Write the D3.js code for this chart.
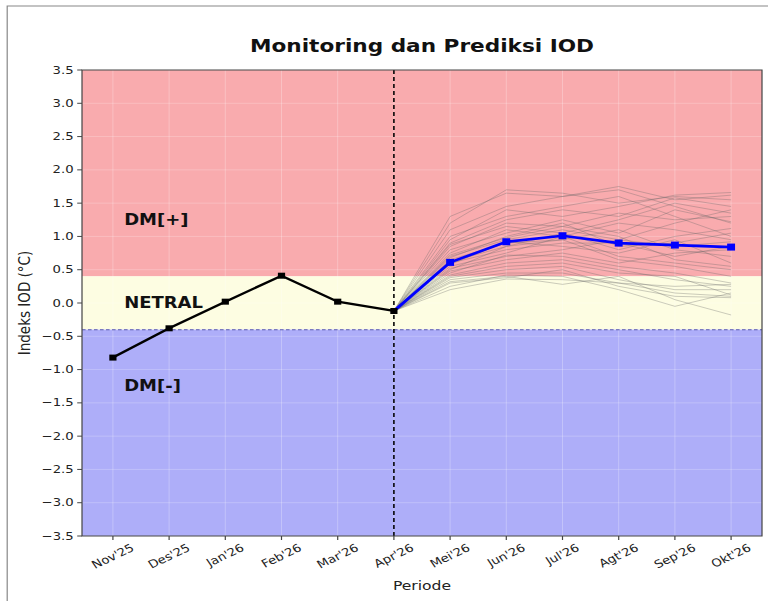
<!DOCTYPE html>
<html>
<head>
<meta charset="utf-8">
<script src="https://cdn.jsdelivr.net/npm/d3@7"></script>
<style>
  body { margin: 0; background: #fff; }
  text { font-family: "DejaVu Sans", sans-serif; }
</style>
</head>
<body>
<div id="chart"></div>
<script>
// periods and tick labels
var periods = ["Nov'25", "Des'25", "Jan'26", "Feb'26", "Mar'26", "Apr'26",
               "Mei'26", "Jun'26", "Jul'26", "Agt'26", "Sep'26", "Okt'26"];
var yTicks = [3.5, 3.0, 2.5, 2.0, 1.5, 1.0, 0.5, 0.0, -0.5, -1.0, -1.5, -2.0, -2.5, -3.0, -3.5];

// observed IOD index (Nov'25 .. Apr'26)
var observed = [-0.82, -0.38, 0.02, 0.41, 0.02, -0.12];

// forecast mean (Mei'26 .. Okt'26), starts from last observed
var forecast = [0.61, 0.92, 1.01, 0.90, 0.87, 0.84];

// ensemble members (Mei'26 .. Okt'26)
var members = [
  [1.30, 1.65, 1.60, 1.75, 1.55, 1.62],
  [1.20, 1.70, 1.65, 1.50, 1.60, 1.55],
  [1.10, 1.45, 1.60, 1.70, 1.45, 1.20],
  [0.95, 1.40, 1.30, 1.45, 1.62, 1.66],
  [0.90, 1.25, 1.40, 1.30, 1.58, 1.45],
  [0.85, 1.20, 1.15, 1.35, 1.25, 1.30],
  [0.80, 1.05, 1.25, 1.05, 1.40, 1.22],
  [0.75, 1.10, 1.00, 1.20, 1.10, 0.95],
  [0.70, 0.95, 1.10, 0.95, 1.20, 1.40],
  [0.68, 1.00, 1.20, 0.85, 0.90, 1.05],
  [0.65, 0.90, 0.95, 1.10, 0.80, 0.70],
  [0.62, 0.85, 1.05, 0.80, 1.00, 1.12],
  [0.60, 0.80, 0.90, 0.90, 0.70, 0.85],
  [0.58, 0.92, 0.85, 0.75, 0.95, 0.60],
  [0.55, 0.75, 1.00, 0.70, 0.60, 0.50],
  [0.52, 0.70, 0.80, 0.95, 0.85, 0.92],
  [0.50, 0.85, 0.95, 0.65, 0.55, 0.40],
  [0.48, 0.65, 0.75, 0.60, 0.75, 0.80],
  [0.45, 0.72, 0.70, 0.55, 0.45, 0.30],
  [0.42, 0.60, 0.65, 0.50, 0.35, 0.25],
  [0.40, 0.55, 0.60, 0.45, 0.40, 0.12],
  [0.38, 0.50, 0.55, 0.35, 0.20, 0.20],
  [0.35, 0.45, 0.45, 0.30, 0.15, 0.10],
  [0.32, 0.40, 0.28, 0.40, 0.05, -0.18],
  [0.30, 0.38, 0.50, 0.25, 0.10, 0.08],
  [0.25, 0.42, 0.40, 0.20, -0.05, 0.15],
  [0.20, 0.36, 0.35, 0.30, 0.25, 0.28],
  [1.00, 1.30, 1.45, 1.60, 1.30, 1.00],
  [0.88, 1.15, 1.05, 1.25, 1.50, 1.35],
  [0.72, 0.98, 1.15, 1.00, 0.65, 0.55]
];

// phase bands
var bands = [
  { name: "DM[+]",  lo: 0.4,  hi: 3.5,  color: "#f9abae", labelY: 1.25 },
  { name: "NETRAL", lo: -0.4, hi: 0.4,  color: "#fdfde2", labelY: 0.0 },
  { name: "DM[-]",  lo: -3.5, hi: -0.4, color: "#aeaef9", labelY: -1.25 }
];

// the reference is stretched horizontally, so draw in a narrower frame and scale
var SX = 1.2;
var W = 768, H = 601;
var pL = 82 / SX, pR = 762 / SX, pT = 70, pB = 536;
var nowIdx = 5;

var svg = d3.select("#chart").append("svg")
  .attr("width", W).attr("height", H);
svg.append("rect").attr("width", W).attr("height", H).attr("fill", "#fff");
var g = svg.append("g").attr("transform", "scale(" + SX + ",1)");

// outer frame
g.append("rect")
  .attr("x", 6).attr("y", 6).attr("width", W).attr("height", H)
  .attr("fill", "none").attr("stroke", "#888").attr("stroke-width", 1);

var x = d3.scaleLinear().domain([-0.55, periods.length - 1 + 0.55]).range([pL, pR]);
var y = d3.scaleLinear().domain([-3.5, 3.5]).range([pB, pT]);

// bands
g.selectAll("rect.band").data(bands).join("rect")
  .attr("class", "band")
  .attr("x", pL).attr("width", pR - pL)
  .attr("y", function (d) { return y(d.hi); })
  .attr("height", function (d) { return y(d.lo) - y(d.hi); })
  .attr("fill", function (d) { return d.color; });

// faint grid
g.selectAll("line.vgrid").data(periods).join("line")
  .attr("class", "vgrid")
  .attr("x1", function (d, i) { return x(i); }).attr("x2", function (d, i) { return x(i); })
  .attr("y1", pT).attr("y2", pB)
  .attr("stroke", "#fff").attr("stroke-opacity", 0.3).attr("stroke-width", 0.8);
g.selectAll("line.hgrid").data(yTicks).join("line")
  .attr("class", "hgrid")
  .attr("x1", pL).attr("x2", pR)
  .attr("y1", function (d) { return y(d); }).attr("y2", function (d) { return y(d); })
  .attr("stroke", "#fff").attr("stroke-opacity", 0.25).attr("stroke-width", 0.8);

// dashed line at -0.4
g.append("line")
  .attr("x1", pL).attr("x2", pR).attr("y1", y(-0.4)).attr("y2", y(-0.4))
  .attr("stroke", "#5a5ab0").attr("stroke-width", 1).attr("stroke-dasharray", "3,2");

var line = d3.line()
  .x(function (d) { return x(d[0]); })
  .y(function (d) { return y(d[1]); });

function withStart(vals) {
  var pts = [[nowIdx, observed[observed.length - 1]]];
  vals.forEach(function (v, i) { pts.push([nowIdx + 1 + i, v]); });
  return pts;
}

// ensemble
g.selectAll("path.member").data(members).join("path")
  .attr("class", "member")
  .attr("d", function (d) { return line(withStart(d)); })
  .attr("fill", "none").attr("stroke", "#666")
  .attr("stroke-opacity", 0.38).attr("stroke-width", 0.8);

// now line
g.append("line")
  .attr("x1", x(nowIdx)).attr("x2", x(nowIdx)).attr("y1", pT).attr("y2", pB)
  .attr("stroke", "#000").attr("stroke-width", 1.3).attr("stroke-dasharray", "4,3");

// forecast mean
var fc = withStart(forecast);
g.append("path").attr("d", line(fc))
  .attr("fill", "none").attr("stroke", "#0000ff").attr("stroke-width", 2.6);
g.selectAll("rect.fmark").data(fc.slice(1)).join("rect")
  .attr("class", "fmark")
  .attr("x", function (d) { return x(d[0]) - 3.3; }).attr("y", function (d) { return y(d[1]) - 3.5; })
  .attr("width", 6.6).attr("height", 7).attr("fill", "#0000ff");

// observed
var obs = observed.map(function (v, i) { return [i, v]; });
g.append("path").attr("d", line(obs))
  .attr("fill", "none").attr("stroke", "#000").attr("stroke-width", 2.3);
g.selectAll("rect.omark").data(obs).join("rect")
  .attr("class", "omark")
  .attr("x", function (d) { return x(d[0]) - 3; }).attr("y", function (d) { return y(d[1]) - 3; })
  .attr("width", 6).attr("height", 6).attr("fill", "#000");

// band labels
g.selectAll("text.band").data(bands).join("text")
  .attr("class", "band")
  .attr("x", x(0.2)).attr("y", function (d) { return y(d.labelY); })
  .attr("dominant-baseline", "central")
  .attr("font-size", 15).attr("font-weight", "bold").attr("fill", "#111")
  .text(function (d) { return d.name; });

// spines
g.append("rect")
  .attr("x", pL).attr("y", pT).attr("width", pR - pL).attr("height", pB - pT)
  .attr("fill", "none").attr("stroke", "#444").attr("stroke-width", 1);

// y axis
var fmt = d3.format(".1f");
var yAxis = g.append("g");
yAxis.selectAll("line").data(yTicks).join("line")
  .attr("x1", pL - 4).attr("x2", pL)
  .attr("y1", function (d) { return y(d); }).attr("y2", function (d) { return y(d); })
  .attr("stroke", "#444");
yAxis.selectAll("text").data(yTicks).join("text")
  .attr("x", pL - 7).attr("y", function (d) { return y(d); })
  .attr("text-anchor", "end").attr("dominant-baseline", "central")
  .attr("font-size", 11).attr("fill", "#222")
  .text(function (d) { return fmt(d); });

// x axis
var xAxis = g.append("g");
xAxis.selectAll("line").data(periods).join("line")
  .attr("x1", function (d, i) { return x(i); }).attr("x2", function (d, i) { return x(i); })
  .attr("y1", pB).attr("y2", pB + 4)
  .attr("stroke", "#444");
var xl = xAxis.selectAll("text").data(periods).join("text")
  .attr("text-anchor", "middle").attr("dominant-baseline", "central")
  .attr("font-size", 11).attr("fill", "#222")
  .text(function (d) { return d; });
xl.attr("transform", function (d, i) {
  var w = this.getComputedTextLength(), h = 11;
  var a = Math.PI / 6;
  var bh = w * Math.sin(a) + h * Math.cos(a);
  return "translate(" + x(i) + "," + (pB + 6 + bh / 2) + ") rotate(-30)";
});

// axis titles
g.append("text")
  .attr("x", (pL + pR) / 2).attr("y", 590)
  .attr("text-anchor", "middle").attr("font-size", 13).attr("fill", "#222")
  .text("Periode");
g.append("text")
  .attr("transform", "translate(25," + ((pT + pB) / 2) + ") rotate(-90)")
  .attr("text-anchor", "middle").attr("font-size", 13.5).attr("fill", "#222")
  .text("Indeks IOD (°C)");

// title
g.append("text")
  .attr("x", (pL + pR) / 2).attr("y", 52)
  .attr("text-anchor", "middle").attr("font-size", 18).attr("font-weight", "bold")
  .attr("fill", "#111")
  .text("Monitoring dan Prediksi IOD");
</script>
</body>
</html>
